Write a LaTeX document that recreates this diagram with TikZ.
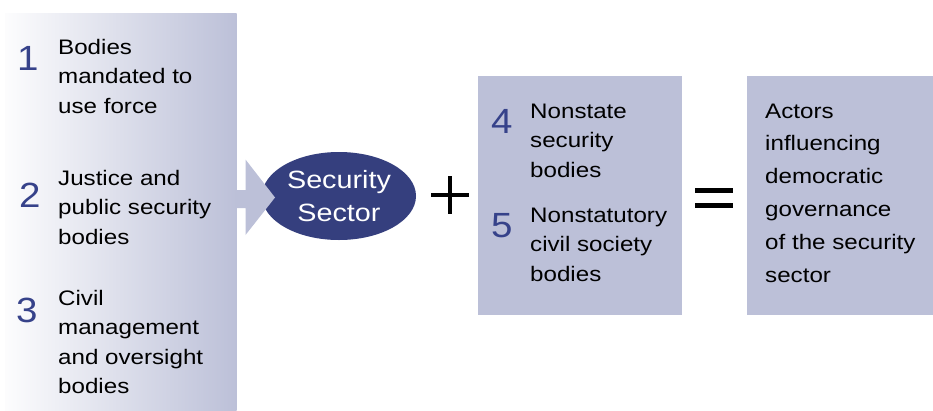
\documentclass[tikz,border=0pt]{standalone}
\usepackage{fontspec}
\usetikzlibrary{shapes.geometric}
\setmainfont{Liberation Sans}[FakeStretch=1.15]
\newfontfamily\numfont{Liberation Sans}[FakeStretch=1.1]
\definecolor{boxlav}{RGB}{188,192,216}
\definecolor{navy}{RGB}{53,63,126}
\definecolor{numblue}{RGB}{54,66,138}
\tikzset{
  % multi-line blocks are placed by the baseline of their last line
  body/.style={anchor=base west, inner sep=0pt, align=left, text=black,
    font=\fontsize{21}{29.5}\selectfont},
  bodywide/.style={body, font=\fontsize{21}{32.9}\selectfont},
  num/.style={anchor=base west, inner sep=0pt, text=numblue,
    font=\numfont\fontsize{35}{35}\selectfont},
  panel/.style={fill=boxlav, draw=none},
  opsign/.style={line width=4.3pt, black},
}
\begin{document}
\begin{tikzpicture}[x=1pt, y=-1pt]
  \useasboundingbox (0,0) rectangle (933,410);
  \fill[white] (0,0) rectangle (933,410);

  % left panel with horizontal shading
  \shade[left color=white!96!boxlav, right color=boxlav, shading angle=90]
    (5,13) rectangle (236.5,410);

  % security sector ellipse
  \node[ellipse, fill=navy, minimum width=154pt, minimum height=88pt,
        inner sep=0pt, text=white, align=center,
        font=\fontsize{25}{33}\selectfont] (sector) at (339,196)
        {Security\\Sector};

  % block arrow from the panel into the ellipse
  \fill[boxlav] (236,190) -- (245.5,190) -- (245.5,159.5) -- (275,197.5)
    -- (245.5,235) -- (245.5,208) -- (236,208) -- cycle;

  % middle and right panels
  \fill[panel] (478,76) rectangle (682,315);
  \fill[panel] (747,76) rectangle (933,315);

  % operators
  \coordinate (plusc) at (450,194.7);
  \draw[opsign] ([xshift=-19pt]plusc) -- ([xshift=19pt]plusc);
  \draw[opsign] ([yshift=-18.8pt]plusc) -- ([yshift=18.8pt]plusc);
  \coordinate (eqc) at (714,198);
  \draw[opsign] ([shift={(-19,-7.5)}]eqc) -- ([shift={(19,-7.5)}]eqc);
  \draw[opsign] ([shift={(-19,7.5)}]eqc) -- ([shift={(19,7.5)}]eqc);

  % numbered items
  \node[num] (n1) at (17,70) {1};
  \node[body] (t1) at (58,113) {Bodies\\mandated to\\use force};
  \node[num] (n2) at (19,207) {2};
  \node[body] (t2) at (58,244) {Justice and\\public security\\bodies};
  \node[num] (n3) at (16,322) {3};
  \node[body] (t3) at (58,393.5) {Civil\\management\\and oversight\\bodies};

  \node[num] (n4) at (491,133) {4};
  \node[body] (t4) at (530,177) {Nonstate\\security\\bodies};
  \node[num] (n5) at (491,237) {5};
  \node[body] (t5) at (530,281) {Nonstatutory\\civil society\\bodies};

  \node[bodywide] (t6) at (765,282.5)
    {Actors\\influencing\\democratic\\governance\\of the security\\sector};
\end{tikzpicture}
\end{document}
